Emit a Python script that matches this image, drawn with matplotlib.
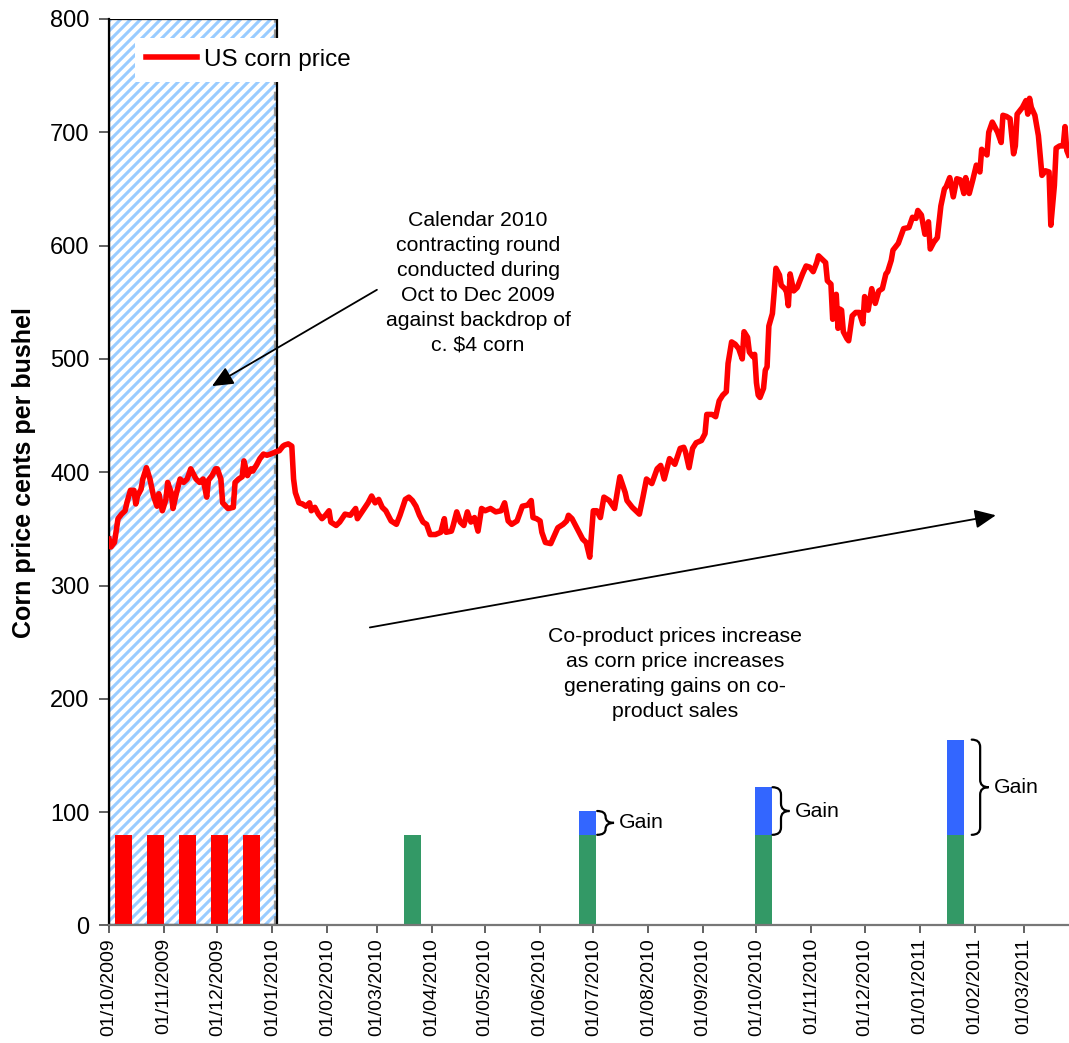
import datetime as dt

import matplotlib
matplotlib.use("Agg")
import matplotlib.pyplot as plt
import matplotlib.dates as mdates
from matplotlib.patches import Rectangle, PathPatch
from matplotlib.path import Path
from matplotlib.collections import LineCollection
from matplotlib.transforms import IdentityTransform

plt.rcParams["font.family"] = ["Liberation Sans", "DejaVu Sans"]

# ---------------------------------------------------------------- data
START = dt.datetime(2009, 10, 1)

# US corn price (cents per bushel), days counted from 1 Oct 2009
day_offset = [
    0, 1, 3, 5, 7, 9, 10, 12, 14, 15, 16, 18, 19, 21, 23, 25, 27, 28, 30, 32,
    33, 35, 36, 38, 40, 42, 44, 46, 47, 49, 51, 53, 55, 56, 58, 60, 61, 63, 64, 67,
    70, 71, 73, 75, 76, 78, 80, 81, 83, 85, 87, 89, 91, 94, 96, 98, 99, 101, 103, 104,
    105, 107, 109, 111, 113, 114, 116, 118, 120, 122, 124, 125, 128, 130, 133, 136, 139, 140, 143, 146,
    148, 150, 152, 154, 156, 159, 162, 164, 167, 169, 171, 173, 175, 177, 179, 181, 184, 187, 189, 190,
    193, 194, 196, 198, 200, 202, 204, 206, 208, 210, 212, 215, 218, 221, 223, 225, 227, 230, 233, 236,
    238, 239, 241, 243, 244, 246, 249, 251, 253, 256, 258, 259, 261, 264, 267, 269, 271, 273, 275, 277,
    279, 282, 285, 288, 291, 292, 295, 299, 301, 303, 306, 309, 311, 313, 316, 319, 322, 324, 325, 327,
    329, 331, 334, 336, 337, 340, 342, 344, 346, 348, 349, 351, 353, 355, 357, 358, 360, 361, 363, 364,
    365, 366, 367, 369, 370, 371, 372, 374, 375, 376, 378, 379, 381, 382, 383, 384, 386, 388, 390, 391,
    393, 395, 397, 399, 400, 402, 404, 405, 407, 408, 409, 410, 411, 412, 413, 414, 416, 417, 419, 421,
    423, 425, 426, 428, 430, 432, 434, 436, 438, 439, 441, 442, 445, 448, 451, 453, 455, 456, 458, 460,
    462, 463, 465, 467, 469, 471, 472, 474, 476, 478, 480, 482, 483, 485, 487, 489, 491, 492, 495, 496,
    498, 501, 503, 504, 506, 508, 510, 511, 512, 515, 517, 518, 519, 520, 522, 524, 526, 528, 530, 531,
    533, 534, 536, 538, 539, 540, 541,
]
price = [
    341, 334, 338, 359, 363, 366, 373, 384, 384, 372, 379, 385, 394, 404, 394, 379, 370, 381, 366, 376,
    391, 382, 368, 382, 394, 391, 394, 403, 400, 394, 391, 394, 378, 393, 397, 403, 403, 394, 373, 368,
    369, 391, 394, 396, 410, 397, 403, 401, 406, 412, 416, 415, 416, 418, 419, 423, 424, 425, 423, 394,
    382, 373, 372, 370, 373, 366, 369, 363, 359, 362, 366, 356, 353, 356, 363, 362, 368, 359, 366, 373,
    379, 373, 376, 369, 366, 357, 354, 362, 376, 378, 375, 370, 362, 356, 354, 345, 345, 347, 359, 347,
    348, 353, 365, 356, 353, 365, 356, 360, 348, 368, 366, 368, 365, 366, 373, 357, 354, 357, 370, 371,
    375, 360, 359, 357, 347, 338, 337, 344, 351, 354, 357, 362, 359, 350, 341, 338, 325, 366, 366, 360,
    378, 375, 368, 396, 382, 375, 369, 363, 378, 394, 390, 403, 406, 394, 412, 407, 421, 422, 418, 404,
    421, 426, 428, 434, 451, 451, 449, 463, 468, 471, 496, 515, 513, 509, 500, 524, 519, 506, 502, 504,
    479, 468, 466, 474, 490, 493, 529, 540, 559, 580, 574, 565, 562, 559, 547, 575, 560, 563, 571, 575,
    582, 581, 577, 585, 591, 588, 585, 569, 566, 535, 550, 557, 527, 544, 543, 524, 518, 516, 538, 541,
    541, 531, 555, 543, 562, 549, 560, 562, 575, 577, 587, 596, 602, 615, 616, 625, 624, 631, 627, 610,
    621, 597, 603, 607, 635, 650, 652, 660, 643, 659, 658, 646, 660, 646, 658, 671, 665, 685, 680, 700,
    709, 700, 691, 715, 714, 712, 681, 688, 716, 722, 728, 716, 730, 722, 715, 697, 662, 666, 665, 618,
    653, 686, 688, 688, 705, 684, 680,
]

# Contracting round (Oct-Dec 2009) and the period shaded for it
round_start = dt.datetime(2009, 10, 1)
round_end = dt.datetime(2010, 1, 3, 12)

contract_dates = ["2009-10-09", "2009-10-27", "2009-11-14", "2009-12-02", "2009-12-20"]
contract_values = [80, 80, 80, 80, 80]

coproduct_dates = ["2010-03-21", "2010-06-28", "2010-10-05", "2011-01-21"]
coproduct_base = [80, 80, 80, 80]
coproduct_gain = [0, 21, 42, 84]

x_end = dt.datetime(2011, 3, 26, 6)

# ---------------------------------------------------------------- styles
RED = "#FF0000"
GREEN = "#339966"
BLUE = "#3366FF"
STRIPE_BLUE = "#99CCFF"
BAR_WIDTH = 9.6          # days
BRACE_WIDTH = 9.5        # days
brace_gap = [0.4, 0.3, 4.6]   # days between bar edge and brace
ANN_SIZE = 15.3
STRIPE_STEP = 10         # pixels between diagonal stripes

fig = plt.figure(figsize=(10.69, 10.43), dpi=100)
ax = fig.add_axes([0.1021, 0.1127, 0.8979, 0.8691])

dates = [START + dt.timedelta(days=d) for d in day_offset]

# shaded contracting period: white box with light-blue diagonal stripes
x0 = mdates.date2num(round_start)
x1 = mdates.date2num(round_end)
shade = Rectangle((x0, 0), x1 - x0, 800, facecolor="white", lw=0, zorder=0.5)
ax.add_patch(shade)
W, H = fig.get_size_inches() * fig.dpi
segs = [[(c, 0), (c + H, H)] for c in range(int(-H), int(W), STRIPE_STEP)]
stripes = LineCollection(segs, colors=STRIPE_BLUE, linewidths=2.2,
                         transform=IdentityTransform(), zorder=0.6)
ax.add_collection(stripes, autolim=False)
stripes.set_clip_path(shade)
ax.plot([x1 - 1.0, x1 - 1.0], [0, 800], color="#999999", ls=(0, (4, 3)),
        lw=1.6, zorder=0.7)
ax.add_patch(Rectangle((x0, 0), x1 - x0, 800, fill=False,
                       edgecolor="black", lw=1.6, zorder=0.8))

# bars
c_dates = [mdates.date2num(dt.datetime.fromisoformat(d)) for d in contract_dates]
ax.bar(c_dates, contract_values, width=BAR_WIDTH, color=RED, zorder=2)

p_dates = [mdates.date2num(dt.datetime.fromisoformat(d)) for d in coproduct_dates]
ax.bar(p_dates, coproduct_base, width=BAR_WIDTH, color=GREEN, zorder=2)
ax.bar(p_dates, coproduct_gain, bottom=coproduct_base, width=BAR_WIDTH,
       color=BLUE, zorder=2)

# corn price line
line, = ax.plot(dates, price, color=RED, lw=4.0, solid_joinstyle="round",
                label="US corn price", zorder=3)


def draw_brace(xl, xr, ylo, yhi, r):
    xm = (xl + xr) / 2
    ym = (ylo + yhi) / 2
    verts = [(xl, yhi), (xm, yhi), (xm, yhi - r), (xm, ym + r),
             (xm, ym), (xr, ym), (xm, ym), (xm, ym - r),
             (xm, ylo + r), (xm, ylo), (xl, ylo)]
    codes = [Path.MOVETO, Path.CURVE3, Path.CURVE3, Path.LINETO,
             Path.CURVE3, Path.CURVE3, Path.CURVE3, Path.CURVE3,
             Path.LINETO, Path.CURVE3, Path.CURVE3]
    ax.add_patch(PathPatch(Path(verts, codes), fill=False, lw=1.6,
                           edgecolor="black", capstyle="round", zorder=4))


k = 0
for xd, base, gain in zip(p_dates, coproduct_base, coproduct_gain):
    if gain <= 0:
        continue
    left = xd + BAR_WIDTH / 2 + brace_gap[k]
    right = left + BRACE_WIDTH
    lo, hi = base, base + gain
    draw_brace(left, right, lo, hi, min(6.5, gain / 4))
    ax.text(right + 3.0, (lo + hi) / 2, "Gain", fontsize=ANN_SIZE,
            ha="left", va="center")
    k += 1

# annotations
ARROW = dict(arrowstyle="-|>,head_length=0.8,head_width=0.36",
             mutation_scale=16, color="black", lw=1.3, shrinkA=0, shrinkB=0)

ax.text(mdates.date2num(START + dt.timedelta(days=208)), 567,
        "Calendar 2010\ncontracting round\nconducted during\nOct to Dec 2009\n"
        "against backdrop of\nc. $4 corn",
        fontsize=ANN_SIZE, ha="center", va="center", linespacing=1.4)
ax.annotate("", xy=(mdates.date2num(START + dt.timedelta(days=58)), 476),
            xytext=(mdates.date2num(START + dt.timedelta(days=151)), 561),
            arrowprops=ARROW)

ax.text(mdates.date2num(START + dt.timedelta(days=319)), 222,
        "Co-product prices increase\nas corn price increases\n"
        "generating gains on co-\nproduct sales",
        fontsize=ANN_SIZE, ha="center", va="center", linespacing=1.4)
ax.annotate("", xy=(mdates.date2num(START + dt.timedelta(days=500)), 362),
            xytext=(mdates.date2num(START + dt.timedelta(days=147)), 263),
            arrowprops=ARROW)

# axes
ax.set_xlim(mdates.date2num(START), mdates.date2num(x_end))
ax.set_ylim(0, 800)
ax.set_yticks(range(0, 801, 100))
ax.xaxis.set_major_locator(mdates.MonthLocator())
ax.xaxis.set_major_formatter(mdates.DateFormatter("%d/%m/%Y"))
ax.tick_params(axis="x", labelrotation=90, labelsize=14, length=6,
               width=1.3, color="#555555", pad=3)
ax.tick_params(axis="y", labelsize=17, length=7, width=1.3,
               color="#555555", pad=7)
for lab in ax.get_xticklabels():
    lab.set_horizontalalignment("center")

for s in ("top", "right"):
    ax.spines[s].set_visible(False)
ax.spines["left"].set_color("black")
ax.spines["left"].set_linewidth(1.6)
ax.spines["bottom"].set_color("#777777")
ax.spines["bottom"].set_linewidth(1.6)

ax.set_ylabel("Corn price cents per bushel", fontsize=18, fontweight="bold")
ax.yaxis.set_label_coords(-0.0763, 0.5)

leg = ax.legend(handles=[line], loc="upper left",
                bbox_to_anchor=(0.027, 0.979), borderaxespad=0,
                fontsize=17.5, handlelength=2.1, handletextpad=0.3,
                borderpad=0.45, fancybox=False, framealpha=1)
leg.get_frame().set_facecolor("white")
leg.get_frame().set_edgecolor("none")
leg.set_zorder(6)

fig.savefig("out.png", dpi=100)
